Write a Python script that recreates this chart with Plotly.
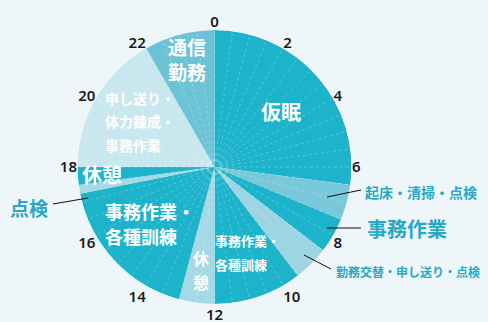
import numpy as np
import plotly.graph_objects as go

# 24-hour duty schedule (hours, clockwise from 0 at top)
starts = [0, 6.5, 7.5, 8.5, 9.5, 12, 13, 17.25, 17.5, 18, 22]
ends = [6.5, 7.5, 8.5, 9.5, 12, 13, 17.25, 17.5, 18, 22, 24]
activities = ["仮眠", "起床・清掃・点検", "事務作業", "勤務交替・申し送り・点検",
              "事務作業・各種訓練", "休憩", "事務作業・各種訓練", "点検", "休憩",
              "申し送り・体力錬成・事務作業", "通信勤務"]
colors = ["#1db4cb", "#78c8da", "#1db4cb", "#9dd5e3", "#1db4cb", "#a5d9e5",
          "#1db4cb", "#a5d9e5", "#1db4cb", "#c9e7ef", "#6cc3d6"]

hour_ticks = list(range(0, 24, 2))
hour_labels = [str(h) for h in hour_ticks]

DEG_PER_HOUR = 15
W, H = 488, 322
BG = "#eef6f9"
TEAL = "#27a8c6"
JP = "Noto Sans CJK JP"
cx, cy, R = 214.5, 167, 137

theta_mid = [(s + e) / 2 * DEG_PER_HOUR for s, e in zip(starts, ends)]
widths = [(e - s) * DEG_PER_HOUR for s, e in zip(starts, ends)]

fig = go.Figure()
fig.add_trace(go.Barpolar(
    r=[1] * len(starts), theta=theta_mid, width=widths,
    marker=dict(color=colors, line=dict(width=0)),
    text=activities, hoverinfo="text", showlegend=False,
))

# faint dashed spokes across the dial
spoke_theta = np.arange(0, 360, 7.5)
r_sp, t_sp = [], []
for t in spoke_theta:
    r_sp += [0.04, 1, None]
    t_sp += [t, t, None]
fig.add_trace(go.Scatterpolar(
    r=r_sp, theta=t_sp, mode="lines",
    line=dict(color="rgba(255,255,255,0.38)", width=0.7, dash="dot"),
    hoverinfo="skip", showlegend=False,
))


def to_polar(x, y):
    """Pixel position on the page -> (r, theta) on the dial."""
    dx, dy = x - cx, y - cy
    return np.hypot(dx, dy) / R, np.degrees(np.arctan2(dx, -dy)) % 360


# labels written inside the slices, one entry per line: text, x, y, size, anchor
in_lines = [
    ("通信", 187, 50, 19, "middle center"),
    ("勤務", 187, 75, 19, "middle center"),
    ("仮眠", 281, 115, 20, "middle center"),
    ("申し送り・", 105, 100, 14, "middle right"),
    ("体力錬成・", 105, 123, 14, "middle right"),
    ("事務作業", 105, 147, 14, "middle right"),
    ("休憩", 102, 178, 20, "middle center"),
    ("事務作業・", 105, 214, 18, "middle right"),
    ("各種訓練", 105, 239, 18, "middle right"),
    ("休", 201, 261, 16, "middle center"),
    ("憩", 201, 285, 16, "middle center"),
    ("事務作業・", 215, 243, 13, "middle right"),
    ("各種訓練", 215, 267, 13, "middle right"),
]
pol = [to_polar(x, y) for _, x, y, _, _ in in_lines]
fig.add_trace(go.Scatterpolar(
    r=[p[0] for p in pol], theta=[p[1] for p in pol], mode="text",
    text=[l[0] for l in in_lines],
    textposition=[l[4] for l in in_lines],
    textfont=dict(family=JP, size=[l[3] for l in in_lines], color="white", weight="bold"),
    hoverinfo="skip", showlegend=False, cliponaxis=False,
))

fig.update_layout(
    width=W, height=H,
    margin=dict(l=0, r=0, t=0, b=0),
    paper_bgcolor=BG, plot_bgcolor=BG,
    polar=dict(
        domain=dict(x=[(cx - R) / W, (cx + R) / W],
                    y=[(H - cy - R) / H, (H - cy + R) / H]),
        bgcolor="rgba(0,0,0,0)",
        radialaxis=dict(visible=False, range=[0, 1]),
        angularaxis=dict(
            direction="clockwise", rotation=90,
            tickmode="array",
            tickvals=[h * DEG_PER_HOUR for h in hour_ticks],
            ticktext=hour_labels,
            tickfont=dict(family="Noto Sans", size=15, color="#1a1a1a", weight=600),
            showgrid=False, showline=False, ticks="",
        ),
    ),
)


def px(x, y):
    return x / W, 1 - y / H


# callouts outside the dial
callouts = [
    ("点検", 8, 207, 19, (53, 204), (88, 198)),
    ("起床・清掃・点検", 363, 192, 14, (327, 197), (361, 190)),
    ("事務作業", 365, 228, 20, (327, 228), (361, 228)),
    ("勤務交替・申し送り・点検", 334, 271, 12, (304, 255), (331, 269)),
]
for text, tx, ty, size, p0, p1 in callouts:
    x, y = px(tx, ty)
    fig.add_annotation(x=x, y=y, xref="paper", yref="paper", text=text,
                       showarrow=False, xanchor="left", yanchor="middle",
                       font=dict(family=JP, size=size, color=TEAL, weight="bold"))
    x0, y0 = px(*p0)
    x1, y1 = px(*p1)
    fig.add_shape(type="line", xref="paper", yref="paper",
                  x0=x0, y0=y0, x1=x1, y1=y1,
                  line=dict(color="#111111", width=1))

fig.write_html("out.html")
